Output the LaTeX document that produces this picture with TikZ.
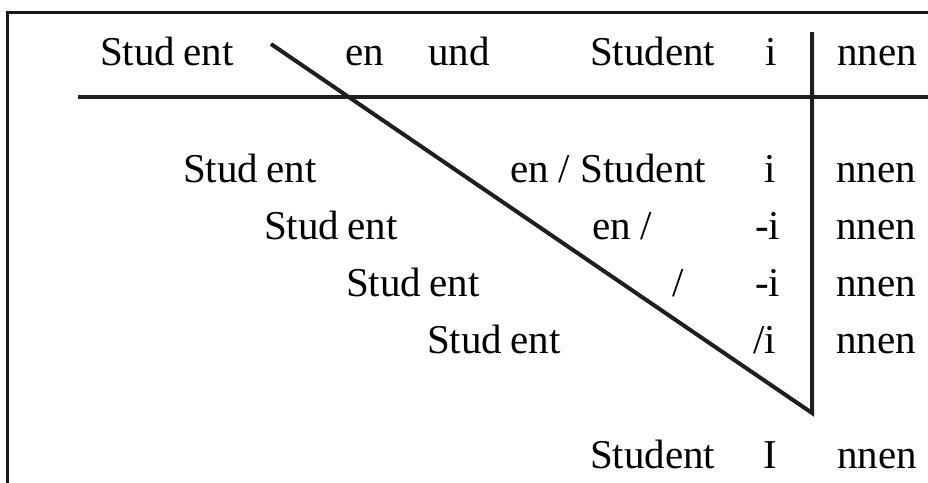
\documentclass[tikz,border=0pt]{standalone}
\usepackage{fontspec}
\setmainfont{Liberation Serif}
\tikzset{
  txt/.style={anchor=base west, inner sep=0pt, outer sep=0pt, text=black,
              font=\fontsize{41}{48}\selectfont},
  rule/.style={line width=4pt, black!88},
  frame/.style={line width=3pt, black!90}
}
\newcommand{\studgap}{Stud\hspace{0.2em}ent}
\begin{document}
\begin{tikzpicture}[x=1pt, y=-1pt]
  \useasboundingbox (0,0) rectangle (928,482);
  % outer frame, running off the right and bottom edges
  \draw[frame] (7,12) rectangle (940,495);

  % header row
  \node[txt] (h1) at (100,65) {\studgap};
  \node[txt] (h2) at (345,65) {en};
  \node[txt] (h3) at (428,65) {und};
  \node[txt] (h4) at (590,65) {Student};
  \node[txt] (h5) at (765,65) {i};
  \node[txt] (h6) at (837,65) {nnen};

  % rule under the header
  \coordinate (ruleL) at (78,97);
  \coordinate (ruleR) at (930,97);
  \draw[rule] (ruleL) -- (ruleR);

  % diagonal and vertical stroke
  \coordinate (diagTop) at (271,44);
  \coordinate (corner) at (812,413);
  \coordinate (vertTop) at (812,32);
  \draw[rule, line join=miter] (diagTop) -- (corner) -- (vertTop);

  % rows
  \node[txt] (a1) at (183,182) {\studgap};
  \node[txt] (a2) at (510,182) {en / Student};
  \node[txt] (a3) at (764,182) {i};
  \node[txt] (a4) at (836,182) {nnen};

  \node[txt] (b1) at (264,239) {\studgap};
  \node[txt] (b2) at (592,239) {en /};
  \node[txt] (b3) at (755,239) {-i};
  \node[txt] (b4) at (836,239) {nnen};

  \node[txt] (c1) at (346,296) {\studgap};
  \node[txt] (c2) at (672,296) {/};
  \node[txt] (c3) at (755,296) {-i};
  \node[txt] (c4) at (836,296) {nnen};

  \node[txt] (d1) at (427,353) {\studgap};
  \node[txt] (d2) at (753,353) {/i};
  \node[txt] (d4) at (836,353) {nnen};

  % result row
  \node[txt] (e1) at (590,468) {Student};
  \node[txt] (e2) at (763,468) {I};
  \node[txt] (e3) at (837,468) {nnen};
\end{tikzpicture}
\end{document}
